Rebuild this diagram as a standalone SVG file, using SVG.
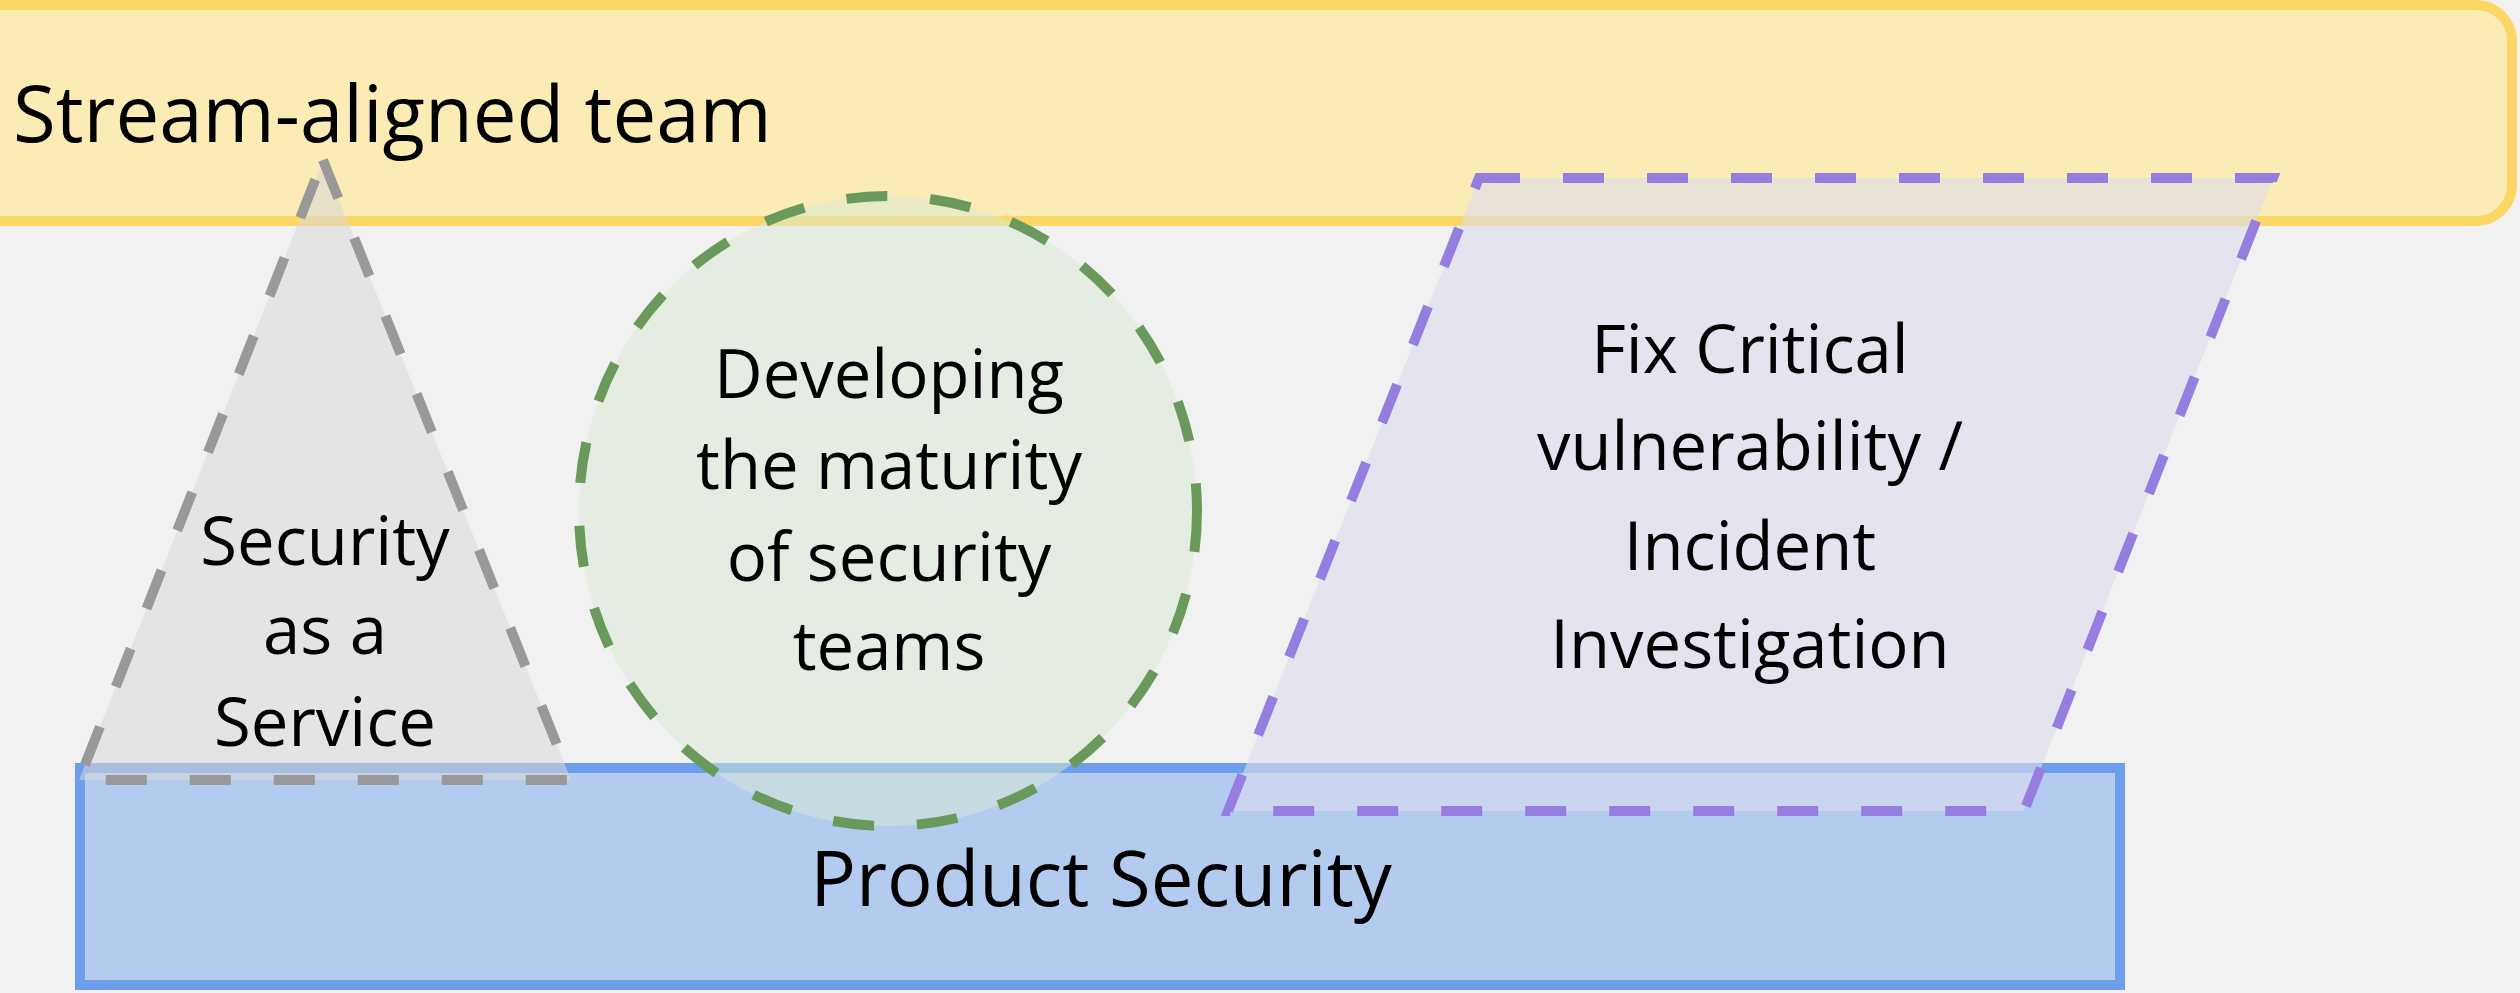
<svg xmlns="http://www.w3.org/2000/svg" width="2520" height="993" viewBox="0 0 2520 993">
  <style>
    text { font-family: "Open Sans", "Noto Sans", "DejaVu Sans", sans-serif; fill: #000000; }
    .title { font-size: 78px; }
    .label { font-size: 67px; text-anchor: middle; }
    .big { font-size: 76px; text-anchor: middle; }
    .dash { stroke-width: 10; stroke-dasharray: 41 43; stroke-linejoin: miter; }
  </style>
  <rect x="0" y="0" width="2520" height="993" fill="#f1f1f1"/>

  <!-- Team bands -->
  <g id="stream-aligned-team">
    <rect x="-40" y="5" width="2552" height="216" rx="36" ry="36" fill="#fbebb4" stroke="#fdd766" stroke-width="10"/>
    <text class="title" x="13" y="142">Stream-aligned team</text>
  </g>
  <g id="product-security">
    <rect x="80" y="768" width="2040" height="217" fill="#b4cbf0" stroke="#6d9eeb" stroke-width="10"/>
    <text class="big" x="1101" y="906">Product Security</text>
  </g>

  <!-- Interaction modes (drawn over the bands) -->
  <g id="security-as-a-service">
    <polygon points="323,160 571,780 79,780" fill="#d9d9d9" fill-opacity="0.55" stroke="#999999" class="dash"/>
    <text class="label" x="325" y="565">Security</text>
    <text class="label" x="325" y="654">as a</text>
    <text class="label" x="325" y="746">Service</text>
  </g>
  <g id="developing-maturity">
    <ellipse cx="888" cy="511" rx="309" ry="315" fill="#d9ead3" fill-opacity="0.5" stroke="#6a9a5b" class="dash"/>
    <text class="label" x="889" y="398">Developing</text>
    <text class="label" x="889" y="489">the maturity</text>
    <text class="label" x="889" y="581">of security</text>
    <text class="label" x="889" y="670">teams</text>
  </g>
  <g id="fix-critical-vulnerability">
    <polygon points="1479,178 2273,178 2024,811 1228,811" fill="#dcdcef" fill-opacity="0.6" stroke="#967de0" class="dash"/>
    <text class="label" x="1750" y="373">Fix Critical</text>
    <text class="label" x="1750" y="470">vulnerability /</text>
    <text class="label" x="1750" y="570">Incident</text>
    <text class="label" x="1750" y="668">Investigation</text>
  </g>

  <g id="connectors"/>
</svg>
